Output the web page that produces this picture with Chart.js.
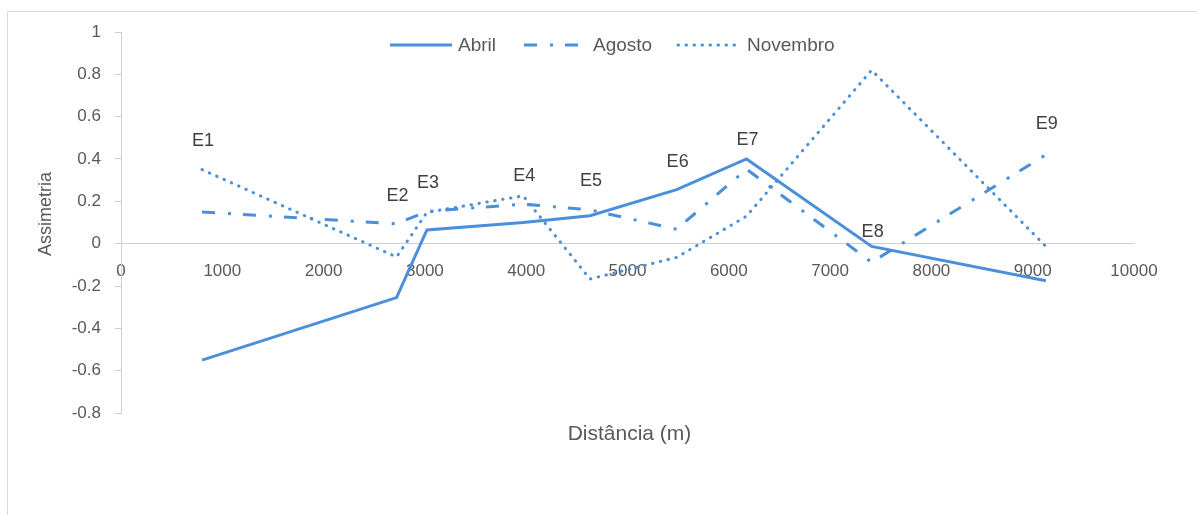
<!DOCTYPE html>
<html lang="pt">
<head>
<meta charset="utf-8">
<title>Assimetria por distância</title>
<script src="https://cdn.jsdelivr.net/npm/chart.js@4/dist/chart.umd.min.js"></script>
<style>
  html, body { margin: 0; padding: 0; background: #ffffff; }
  #wrap { width: 1197px; height: 515px; }
</style>
</head>
<body>
<div id="wrap"><canvas id="chart" width="1197" height="515"></canvas></div>
<script>
// Estações de amostragem e distância ao longo do perfil (m)
const stations = ['E1', 'E2', 'E3', 'E4', 'E5', 'E6', 'E7', 'E8', 'E9'];
const distance = [800, 2720, 3020, 3970, 4630, 5485, 6175, 7410, 9130];

// Assimetria por campanha
const abril    = [-0.55, -0.255, 0.065, 0.10, 0.132, 0.255, 0.40, -0.013, -0.175];
const agosto   = [0.15, 0.094, 0.152, 0.187, 0.16, 0.068, 0.352, -0.088, 0.42];
const novembro = [0.35, -0.063, 0.148, 0.226, -0.167, -0.065, 0.13, 0.82, -0.013];

const seriesNames = ['Abril', 'Agosto', 'Novembro'];

// Série a que cada rótulo de estação se prende (índice em seriesNames)
const stationLabelSeries = [2, 1, 1, 2, 1, 0, 0, 0, 1];

const BLUE = '#4A8FDA';
const TEXT = '#595959';
const AXIS = '#d0d0d0';
const FONT = '"Liberation Sans", Arial, sans-serif';

const lineStyles = [
  { dash: [], cap: 'butt' },
  { dash: [13, 13, 3, 12], cap: 'butt' },
  { dash: [0.5, 7.5], cap: 'round' }
];

function toPoints(values) {
  return values.map((v, i) => ({ x: distance[i], y: v }));
}

const datasets = [abril, agosto, novembro].map((vals, k) => ({
  label: seriesNames[k],
  data: toPoints(vals),
  showLine: true,
  borderColor: BLUE,
  backgroundColor: BLUE,
  borderWidth: 3,
  borderDash: lineStyles[k].dash,
  borderCapStyle: lineStyles[k].cap,
  borderJoinStyle: 'miter',
  pointRadius: 0,
  pointHoverRadius: 0,
  tension: 0,
  fill: false
}));

// Moldura, legenda, títulos dos eixos e rótulos das estações
const decorations = {
  id: 'decorations',
  beforeDraw(chart) {
    const ctx = chart.ctx;
    ctx.save();
    ctx.strokeStyle = '#d9d9d9';
    ctx.lineWidth = 1;
    ctx.strokeRect(7.5, 11.5, 1400, 700);
    ctx.restore();
  },
  afterDraw(chart) {
    const ctx = chart.ctx;
    const area = chart.chartArea;
    ctx.save();

    // Legenda
    const legendY = 45;
    const items = [
      { x0: 390, x1: 452, tx: 458 },
      { x0: 524, x1: 578, tx: 593 },
      { x0: 678, x1: 739, tx: 747 }
    ];
    items.forEach((it, k) => {
      ctx.beginPath();
      ctx.strokeStyle = BLUE;
      ctx.lineWidth = 3;
      ctx.setLineDash(lineStyles[k].dash);
      ctx.lineCap = lineStyles[k].cap;
      ctx.moveTo(it.x0, legendY);
      ctx.lineTo(it.x1, legendY);
      ctx.stroke();
      ctx.setLineDash([]);
      ctx.fillStyle = TEXT;
      ctx.font = '19px ' + FONT;
      ctx.textAlign = 'left';
      ctx.textBaseline = 'middle';
      ctx.fillText(seriesNames[k], it.tx, legendY + 1);
    });

    // Título do eixo X
    ctx.fillStyle = TEXT;
    ctx.font = '21px ' + FONT;
    ctx.textAlign = 'center';
    ctx.textBaseline = 'middle';
    ctx.fillText('Distância (m)', (area.left + area.right) / 2 + 2, 434);

    // Título do eixo Y
    ctx.save();
    ctx.translate(46, 214);
    ctx.rotate(-Math.PI / 2);
    ctx.font = '18px ' + FONT;
    ctx.fillText('Assimetria', 0, 0);
    ctx.restore();

    // Rótulos das estações acima do ponto da série escolhida
    const nudge = [29, 28, 28, 20, 29, 28, 19, 14, 31];
    ctx.font = '18px ' + FONT;
    ctx.fillStyle = '#404040';
    stations.forEach((name, i) => {
      const meta = chart.getDatasetMeta(stationLabelSeries[i]);
      const pt = meta.data[i];
      ctx.fillText(name, pt.x + 1, pt.y - nudge[i]);
    });

    ctx.restore();
  }
};

new Chart(document.getElementById('chart'), {
  type: 'scatter',
  data: { datasets },
  plugins: [decorations],
  options: {
    responsive: false,
    animation: false,
    devicePixelRatio: 1,
    layout: { padding: { left: 0, right: 63, top: 32, bottom: 102 } },
    plugins: {
      legend: { display: false },
      tooltip: { enabled: false },
      title: { display: false }
    },
    scales: {
      x: {
        type: 'linear',
        position: { y: 0 },
        min: 0,
        max: 10000,
        grid: { display: false, drawTicks: false },
        border: { display: true, color: AXIS, width: 1 },
        ticks: {
          stepSize: 1000,
          padding: 17,
          color: TEXT,
          font: { family: FONT, size: 17 },
          maxRotation: 0,
          callback: v => String(v)
        }
      },
      y: {
        type: 'linear',
        position: 'left',
        min: -0.8,
        max: 1,
        afterFit: s => { s.width = 121; },
        grid: { display: true, drawOnChartArea: false, drawTicks: true, tickLength: 6, color: AXIS },
        border: { display: true, color: AXIS, width: 1 },
        ticks: {
          stepSize: 0.2,
          padding: 14,
          color: TEXT,
          font: { family: FONT, size: 17 },
          callback: v => String(Number(v.toFixed(1)))
        }
      }
    }
  }
});
</script>
</body>
</html>
